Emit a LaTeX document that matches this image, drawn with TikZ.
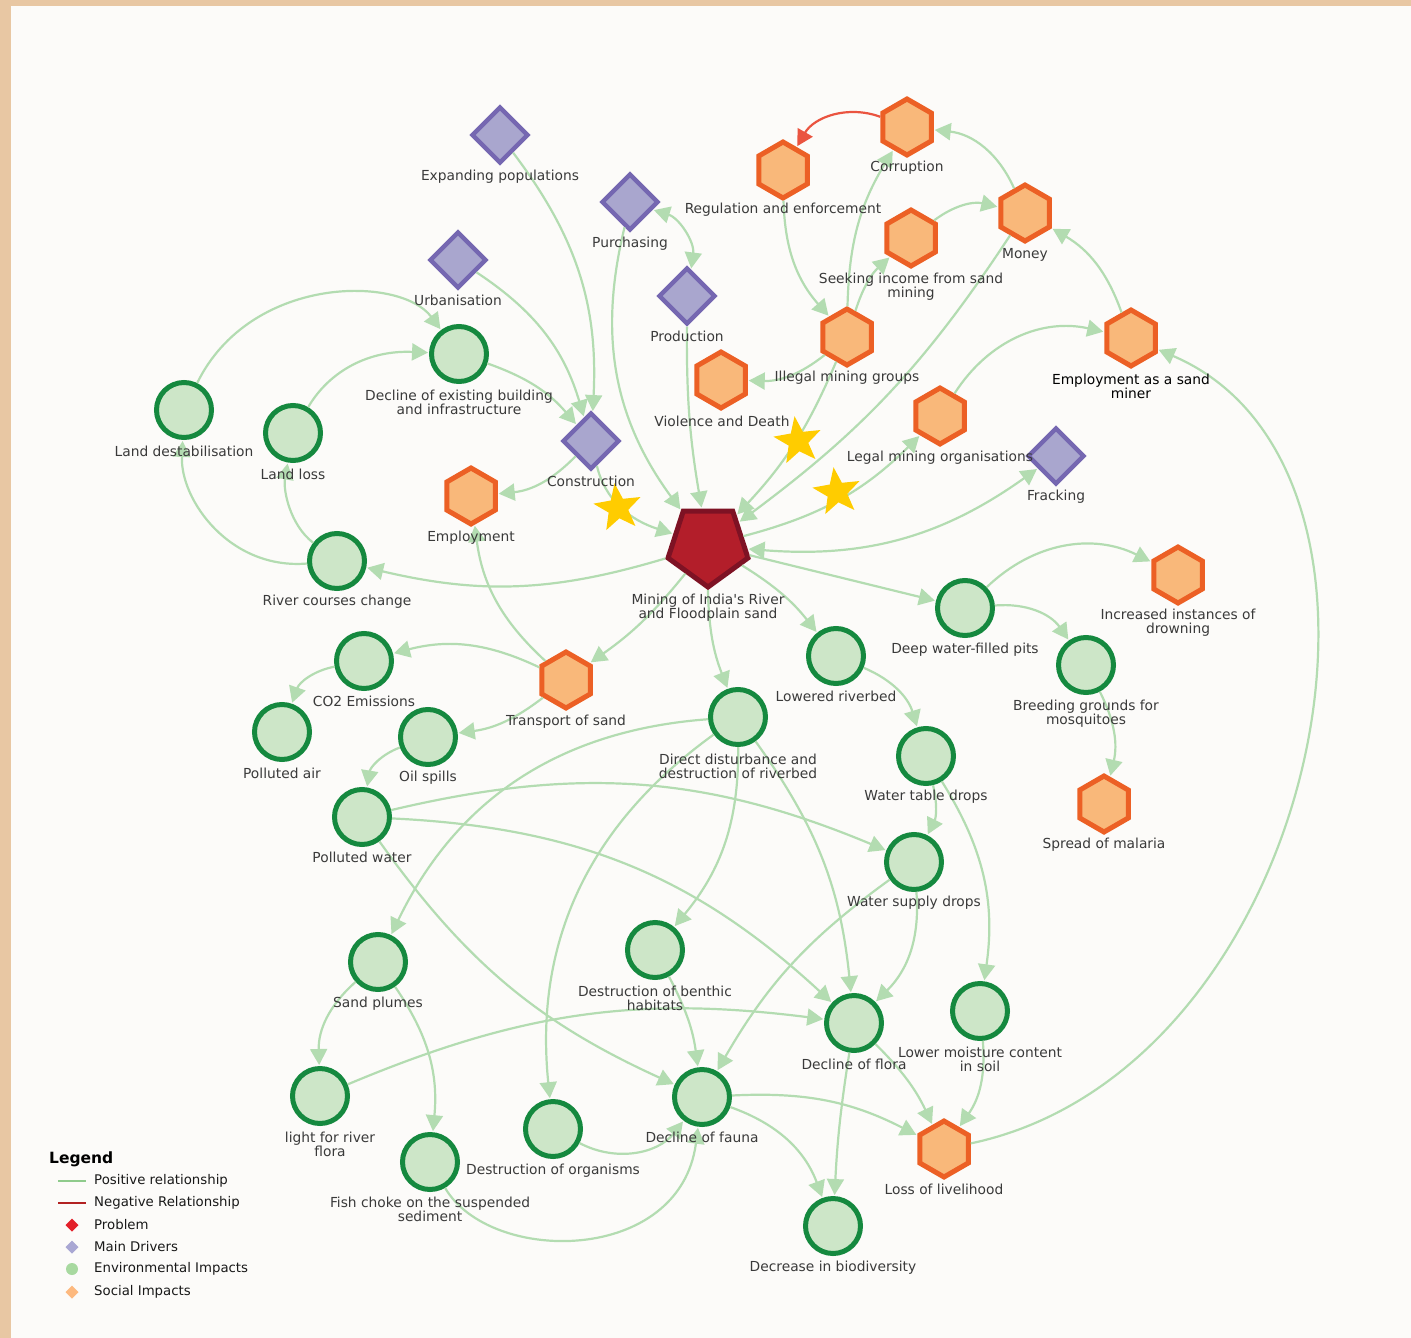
\documentclass[tikz,border=0pt]{standalone}
\usepackage{fontspec}
\setmainfont{DejaVu Sans}
\usetikzlibrary{shapes.geometric,arrows.meta}
\definecolor{bordc}{HTML}{E8C7A3}
\definecolor{bgc}{HTML}{FCFBF9}
\definecolor{edgec}{HTML}{B3DCB1}
\definecolor{negc}{HTML}{EA5440}
\definecolor{envf}{HTML}{CDE6C8}
\definecolor{envd}{HTML}{15893F}
\definecolor{socf}{HTML}{F9B87A}
\definecolor{socd}{HTML}{EC6025}
\definecolor{drvf}{HTML}{A9A6CE}
\definecolor{drvd}{HTML}{7567B1}
\definecolor{probf}{HTML}{B31E2A}
\definecolor{probd}{HTML}{7E1224}
\definecolor{starc}{HTML}{FFCC00}
\definecolor{labc}{HTML}{3A3A3A}
\definecolor{lgred}{HTML}{E3202A}
\definecolor{lgline}{HTML}{B22222}
\definecolor{lgpos}{HTML}{8FCB8C}
\definecolor{lgpur}{HTML}{A9A7D3}
\definecolor{lggrn}{HTML}{A8D9A0}
\definecolor{lgora}{HTML}{FDB97F}
\begin{document}
\begin{tikzpicture}[x=1pt,y=-1pt,
 env/.style={circle,draw=envd,fill=envf,line width=5pt,minimum size=55pt,inner sep=0pt},
 soc/.style={regular polygon,regular polygon sides=6,shape border rotate=30,draw=socd,fill=socf,line width=5pt,minimum size=56pt,inner sep=0pt},
 drv/.style={regular polygon,regular polygon sides=4,shape border rotate=45,draw=drvd,fill=drvf,line width=4.5pt,minimum size=55pt,inner sep=0pt},
 prob/.style={regular polygon,regular polygon sides=5,shape border rotate=180,draw=probd,fill=probf,line width=5pt,minimum size=84pt,inner sep=0pt},
 starn/.style={star,star points=5,star point ratio=2.4,fill=starc,minimum size=50pt,inner sep=0pt},
 lab/.style={text=labc,font=\fontsize{13.8}{14.5}\selectfont,align=center,inner sep=0pt,yshift=-1.5pt},
 rel/.style={draw=edgec,line width=2.2pt,-{Triangle[length=16pt,width=17pt]},shorten >=1pt},
 relb/.style={draw=edgec,line width=2.2pt,{Triangle[length=16pt,width=17pt]}-{Triangle[length=16pt,width=17pt]},shorten >=1pt,shorten <=1pt},
 neg/.style={draw=negc,line width=2.2pt,-{Triangle[length=16pt,width=17pt]},shorten >=1pt},
 legt/.style={text=black!90,font=\fontsize{13.3}{14.5}\selectfont,anchor=west,inner sep=0pt},
 legm/.style={inner sep=0pt,draw=none}
]
\useasboundingbox (0,0) rectangle (1411,1338);
\fill[bordc] (0,0) rectangle (1411,1338);
\fill[bgc] (11,6) rectangle (1411,1338);

% drivers
\node[drv] (exp) at (500,135) {};
\node[drv] (pur) at (630,202) {};
\node[drv] (urb) at (458,260) {};
\node[drv] (prod) at (687,296) {};
\node[drv] (cons) at (591,441) {};
\node[drv] (frack) at (1056,456) {};
% social
\node[soc] (corr) at (907,127) {};
\node[soc] (reg) at (783,170) {};
\node[soc] (seek) at (911,238) {};
\node[soc] (money) at (1025,213) {};
\node[soc] (ill) at (847,337) {};
\node[soc] (viol) at (721,380) {};
\node[soc] (miner) at (1131,338) {};
\node[soc] (legal) at (940,416) {};
\node[soc] (emp) at (471,496) {};
\node[soc] (drown) at (1178,575) {};
\node[soc] (trans) at (566,680) {};
\node[soc] (malaria) at (1104,804) {};
\node[soc] (loss) at (944,1149) {};
% environmental
\node[env] (dbi) at (459,354) {};
\node[env] (ld) at (184,410) {};
\node[env] (ll) at (293,433) {};
\node[env] (river) at (337,561) {};
\node[env] (pits) at (965,608) {};
\node[env] (lowered) at (836,656) {};
\node[env] (breed) at (1086,665) {};
\node[env] (co2) at (364,661) {};
\node[env] (pa) at (282,732) {};
\node[env] (oil) at (428,737) {};
\node[env] (dd) at (738,717) {};
\node[env] (wtd) at (926,756) {};
\node[env] (pw) at (362,817) {};
\node[env] (wsd) at (914,862) {};
\node[env] (sp) at (378,962) {};
\node[env] (benth) at (655,950) {};
\node[env] (flora) at (854,1023) {};
\node[env] (moist) at (980,1011) {};
\node[env] (light) at (320,1096) {};
\node[env] (fauna) at (702,1097) {};
\node[env] (org) at (553,1129) {};
\node[env] (fish) at (430,1162) {};
\node[env] (biodiv) at (833,1226) {};
% problem
\node[prob] (M) at (708,545) {};

% connectors
\draw[rel] (exp) to[bend left=20] (cons);
\draw[rel] (urb) to[bend left=20] (cons);
\draw[rel] (dbi) to[bend left=15] (cons);
\draw[rel] (pur) to[bend right=25] (M);
\draw[relb] (pur) to[bend left=40] (prod);
\draw[rel] (prod) to[bend right=5] (M);
\draw[rel] (cons) to[bend left=20] (emp);
\draw[rel] (cons) .. controls (605,500) and (630,520) .. (M);
\draw[rel] (ill) to[bend left=10] (M);
\draw[rel] (money) to[bend left=10] (M);
\draw[rel] (M) to[bend right=15] (legal);
\draw[relb] (M) to[bend right=20] (frack);
\draw[rel] (M) to (pits);
\draw[rel] (M) to[bend left=10] (lowered);
\draw[rel] (M) to[bend right=10] (dd);
\draw[rel] (M) to[bend left=8] (trans);
\draw[rel] (M) to[bend left=15] (river);
\draw[rel] (trans) to[bend right=20] (co2);
\draw[rel] (trans) to[bend left=15] (oil);
\draw[rel] (trans) to[bend left=20] (emp);
\draw[rel] (co2) to[bend right=30] (pa);
\draw[rel] (oil) to[bend right=30] (pw);
\draw[rel] (pw) to[bend left=18] (wsd);
\draw[rel] (pw) to[bend left=20] (flora);
\draw[rel] (pw) to[bend right=15] (fauna);
\draw[rel] (dd) to[bend right=30] (sp);
\draw[rel] (dd) to[bend right=30] (org);
\draw[rel] (dd) to[bend left=20] (benth);
\draw[rel] (dd) to[bend left=15] (flora);
\draw[rel] (lowered) to[bend left=25] (wtd);
\draw[rel] (wtd) to[bend left=20] (wsd);
\draw[rel] (wtd) to[bend left=20] (moist);
\draw[rel] (wsd) to[bend left=25] (flora);
\draw[rel] (wsd) to[bend right=12] (fauna);
\draw[rel] (pits) to[bend left=35] (drown);
\draw[rel] (pits) to[bend left=30] (breed);
\draw[rel] (breed) to[bend left=20] (malaria);
\draw[rel] (sp) to[bend right=25] (light);
\draw[rel] (sp) to[bend left=20] (fish);
\draw[rel] (light) to[bend left=15] (flora);
\draw[rel] (benth) to[bend left=10] (fauna);
\draw[rel] (org) to[bend right=40] (fauna);
\draw[rel] (fish) .. controls (490,1265) and (680,1265) .. (fauna);
\draw[rel] (fauna) to[bend left=15] (loss);
\draw[rel] (fauna) to[bend left=25] (biodiv);
\draw[rel] (flora) to[bend right=3] (biodiv);
\draw[rel] (flora) to[bend left=10] (loss);
\draw[rel] (moist) to[bend left=20] (loss);
\draw[rel] (loss) .. controls (1320,1070) and (1440,470) .. (miner);
\draw[rel] (miner) to[bend right=20] (money);
\draw[rel] (legal) to[bend left=35] (miner);
\draw[rel] (money) to[bend right=30] (corr);
\draw[rel] (seek) to[bend left=25] (money);
\draw[rel] (ill) to[bend left=15] (seek);
\draw[rel] (ill) to[bend left=15] (corr);
\draw[rel] (reg) to[bend right=20] (ill);
\draw[neg] (corr) to[bend right=40] (reg);
\draw[rel] (ill) to[bend left=20] (viol);
\draw[rel] (ld) .. controls (250,275) and (400,275) .. (dbi);
\draw[rel] (ll) .. controls (330,370) and (370,350) .. (dbi);
\draw[rel] (river) .. controls (230,570) and (180,500) .. (ld);
\draw[rel] (river) .. controls (290,525) and (283,490) .. (ll);

% stars
\node[starn,rotate=8] (s1) at (618,508) {};
\node[starn,rotate=8] (s2) at (798,441) {};
\node[starn,rotate=8] (s3) at (837,492) {};

% labels
\node[lab] (l-exp) at (500,175) {Expanding populations};
\node[lab] (l-pur) at (630,242) {Purchasing};
\node[lab] (l-urb) at (458,299) {Urbanisation};
\node[lab] (l-prod) at (687,335) {Production};
\node[lab] (l-cons) at (591,480) {Construction};
\node[lab] (l-frack) at (1056,495) {Fracking};
\node[lab] (l-corr) at (907,166) {Corruption};
\node[lab] (l-reg) at (783,208) {Regulation and enforcement};
\node[lab] (l-seek) at (911,285) {Seeking income from sand\\mining};
\node[lab] (l-money) at (1025,253) {Money};
\node[lab] (l-ill) at (847,376) {Illegal mining groups};
\node[lab] (l-viol) at (722,420) {Violence and Death};
\node[lab,text=black] (l-miner) at (1131,385) {Employment as a sand\\miner};
\node[lab] (l-legal) at (940,456) {Legal mining organisations};
\node[lab] (l-emp) at (471,536) {Employment};
\node[lab] (l-drown) at (1178,621) {Increased instances of\\drowning};
\node[lab] (l-trans) at (566,720) {Transport of sand};
\node[lab] (l-malaria) at (1104,843) {Spread of malaria};
\node[lab] (l-loss) at (944,1188) {Loss of livelihood};
\node[lab] (l-dbi) at (459,401) {Decline of existing building\\and infrastructure};
\node[lab] (l-ld) at (184,450) {Land destabilisation};
\node[lab] (l-ll) at (293,473) {Land loss};
\node[lab] (l-river) at (337,600) {River courses change};
\node[lab] (l-pits) at (965,648) {Deep water-filled pits};
\node[lab] (l-lowered) at (836,695) {Lowered riverbed};
\node[lab] (l-breed) at (1086,712) {Breeding grounds for\\mosquitoes};
\node[lab] (l-co2) at (364,700) {CO2 Emissions};
\node[lab] (l-pa) at (282,772) {Polluted air};
\node[lab] (l-oil) at (428,776) {Oil spills};
\node[lab] (l-dd) at (738,765) {Direct disturbance and\\destruction of riverbed};
\node[lab] (l-wtd) at (926,795) {Water table drops};
\node[lab] (l-pw) at (362,856) {Polluted water};
\node[lab] (l-wsd) at (914,901) {Water supply drops};
\node[lab] (l-sp) at (378,1002) {Sand plumes};
\node[lab] (l-benth) at (655,997) {Destruction of benthic\\habitats};
\node[lab] (l-flora) at (854,1063) {Decline of flora};
\node[lab] (l-moist) at (980,1058) {Lower moisture content\\in soil};
\node[lab] (l-light) at (330,1143) {light for river\\flora};
\node[lab] (l-fauna) at (702,1136) {Decline of fauna};
\node[lab] (l-org) at (553,1169) {Destruction of organisms};
\node[lab] (l-fish) at (430,1208) {Fish choke on the suspended\\sediment};
\node[lab] (l-biodiv) at (833,1266) {Decrease in biodiversity};
\node[lab] (l-M) at (708,606) {Mining of India\textquotesingle s River\\and Floodplain sand};

% legend
\node[anchor=west,inner sep=0pt,text=black,font=\bfseries\fontsize{15.5}{17}\selectfont] (legtitle) at (49,1159) {Legend};
\draw[lgpos,line width=1.2pt] (58,1181) -- (86,1181);
\node[legt] (lg1) at (94,1181) {Positive relationship};
\draw[lgline,line width=1.2pt] (58,1203) -- (86,1203);
\node[legt] (lg2) at (94,1203) {Negative Relationship};
\node[legm,regular polygon,regular polygon sides=4,shape border rotate=45,fill=lgred,minimum size=13pt] (lm3) at (72,1225) {};
\node[legt] (lg3) at (94,1225) {Problem};
\node[legm,regular polygon,regular polygon sides=4,shape border rotate=45,fill=lgpur,minimum size=13pt] (lm4) at (72,1247) {};
\node[legt] (lg4) at (94,1247) {Main Drivers};
\node[legm,circle,fill=lggrn,minimum size=12pt] (lm5) at (72,1269) {};
\node[legt] (lg5) at (94,1269) {Environmental Impacts};
\node[legm,regular polygon,regular polygon sides=4,shape border rotate=45,fill=lgora,minimum size=13pt] (lm6) at (72,1292) {};
\node[legt] (lg6) at (94,1292) {Social Impacts};
\end{tikzpicture}
\end{document}
